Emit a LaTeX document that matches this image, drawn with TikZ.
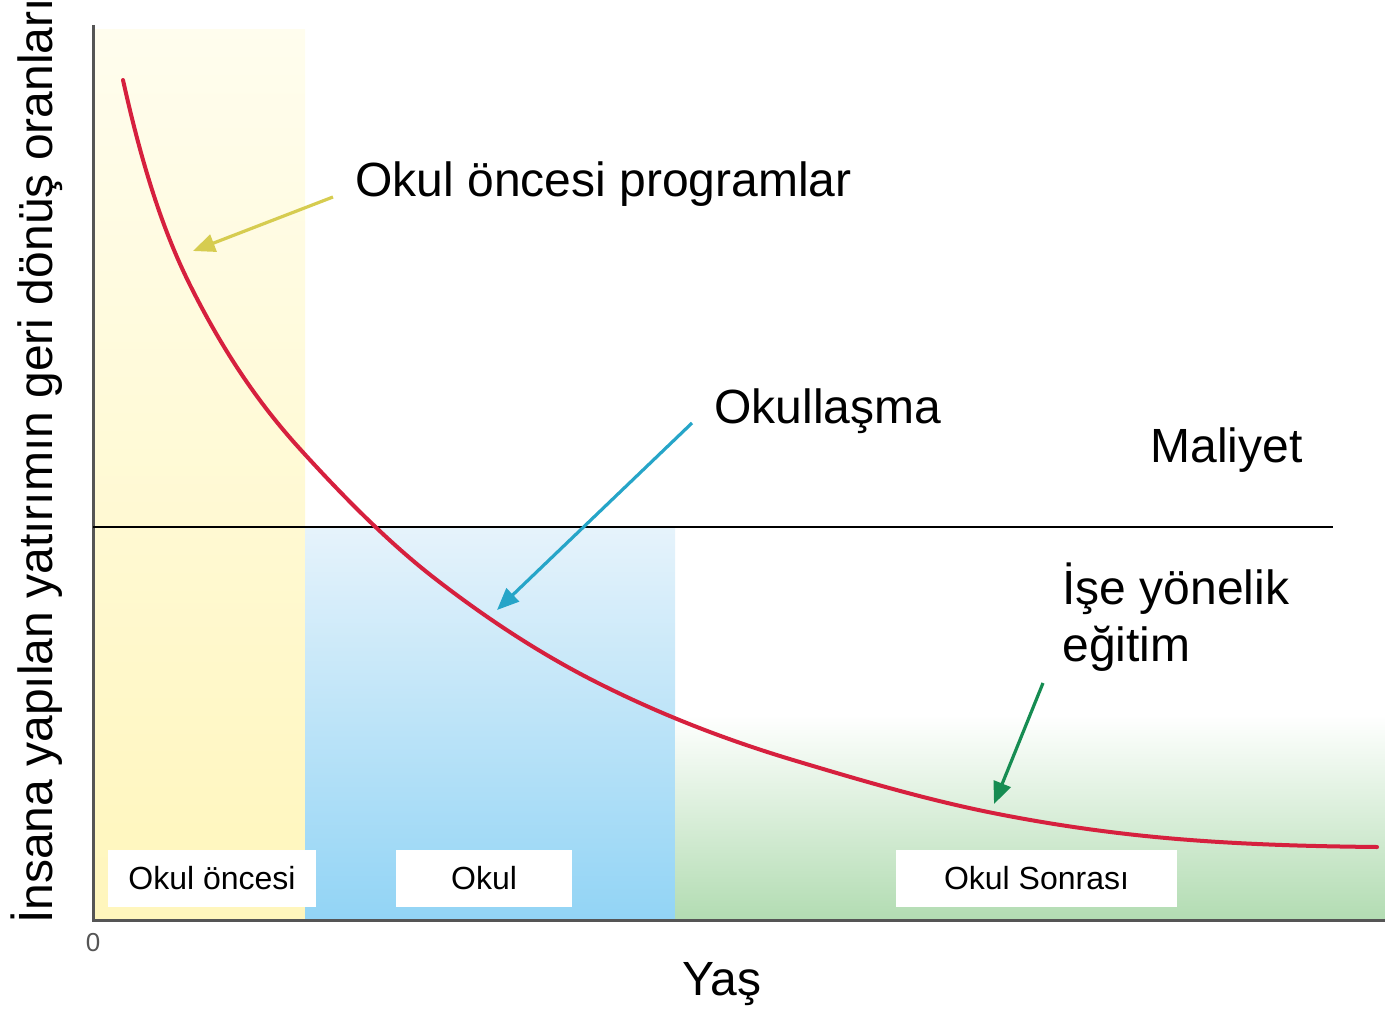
\documentclass[tikz,border=0pt]{standalone}
\usepackage{fontspec}
\setmainfont{Liberation Sans}
\usetikzlibrary{arrows.meta}
\usetikzlibrary{calc}

\definecolor{curvered}{RGB}{214,32,62}
\definecolor{axisgray}{RGB}{85,85,85}
\definecolor{arrowyellow}{RGB}{214,204,80}
\definecolor{arrowblue}{RGB}{38,165,200}
\definecolor{arrowgreen}{RGB}{22,140,82}
\definecolor{paleyellow}{RGB}{255,246,188}
\definecolor{topyellow}{RGB}{255,253,238}
\definecolor{paleblue}{RGB}{146,212,245}
\definecolor{topblue}{RGB}{230,243,251}
\definecolor{palegreen}{RGB}{178,220,178}

\begin{document}
\begin{tikzpicture}[x=0.5pt, y=-0.5pt,
            biglabel/.style={font=\fontsize{24}{28.5}\selectfont, inner sep=0pt},
            whitebox/.style={rectangle, fill=white, minimum height=28.5pt, font=\fontsize{16}{19}\selectfont},
            pointer/.style={-{Triangle[length=11pt, width=9pt]}, line width=1.6pt},
            ]
            \useasboundingbox (0,0) rectangle (1385,1010);
            % shaded age bands
            \shade[top color=topyellow, bottom color=paleyellow] (94,30) rectangle (305,920);
            \shade[top color=topblue, bottom color=paleblue] (305,527) rectangle (675,920);
            \shade[top color=white, bottom color=palegreen] (675,715) rectangle (1385,920);
            % axes and cost line
            \coordinate (origin) at (93,920);
            \coordinate (ytop) at (93,25);
            \coordinate (xend) at (1385,920);
            \coordinate (costL) at (93,527);
            \coordinate (costR) at (1333,527);
            \draw[axisgray, line width=1.5pt] (ytop) -- (origin) -- (xend);
            \draw[black, line width=1.2pt] (costL) -- (costR);
            % return curve
            \draw[curvered, line width=2pt, line cap=round] (123,80)
                .. controls (145.3,180.5) and (167.7,240.3) .. (190,285)
                .. controls (226.7,358.3) and (263.3,408.7) .. (300,449)
                .. controls (344.3,497.8) and (388.7,542.4) .. (433,577)
                .. controls (488.7,620.4) and (544.3,656.2) .. (600,684)
                .. controls (664.3,716.2) and (728.7,740.7) .. (793,760)
                .. controls (859.7,780) and (926.3,799.7) .. (993,813)
                .. controls (1050.7,824.5) and (1108.3,832.8) .. (1166,838)
                .. controls (1236.3,844.3) and (1306.7,846.3) .. (1377,847);
            % band labels
            \node[whitebox, minimum width=104pt] (pre) at (212,878.5) {Okul öncesi};
            \node[whitebox, minimum width=88pt] (school) at (484,878.5) {Okul};
            \node[whitebox, minimum width=140.5pt] (post) at (1036.5,878.5) {Okul Sonrası};
            % axis labels
            \node[text=axisgray, font=\fontsize{13}{15}\selectfont] (zero) at (93,943) {0};
            \node[biglabel, anchor=base west] (age) at (682,995) {Yaş};
            \node[biglabel, rotate=90, anchor=base] (rate) at (52,461) {İnsana yapılan yatırımın geri dönüş oranları};
            \node[biglabel, anchor=base west] (cost) at (1150,462) {Maliyet};
            % callouts
            \node[biglabel, anchor=base west, inner xsep=11pt] (prog) at (333,197) {Okul öncesi programlar};
            \node[biglabel, anchor=base west, inner xsep=11pt] (okl) at (692,423) {Okullaşma};
            \node[biglabel, anchor=south west, align=left, inner xsep=9.5pt, inner ysep=5.5pt] (job) at (1043,683) {İşe yönelik\\eğitim};
            \coordinate (progtip) at (193,251);
            \coordinate (okltip) at (497,610);
            \coordinate (jobtip) at (994,804);
            \draw[pointer, arrowyellow] (prog.base west) -- (progtip);
            \draw[pointer, arrowblue] (okl.base west) -- (okltip);
            \draw[pointer, arrowgreen] (job.south west) -- (jobtip);
        \end{tikzpicture}
\end{document}
